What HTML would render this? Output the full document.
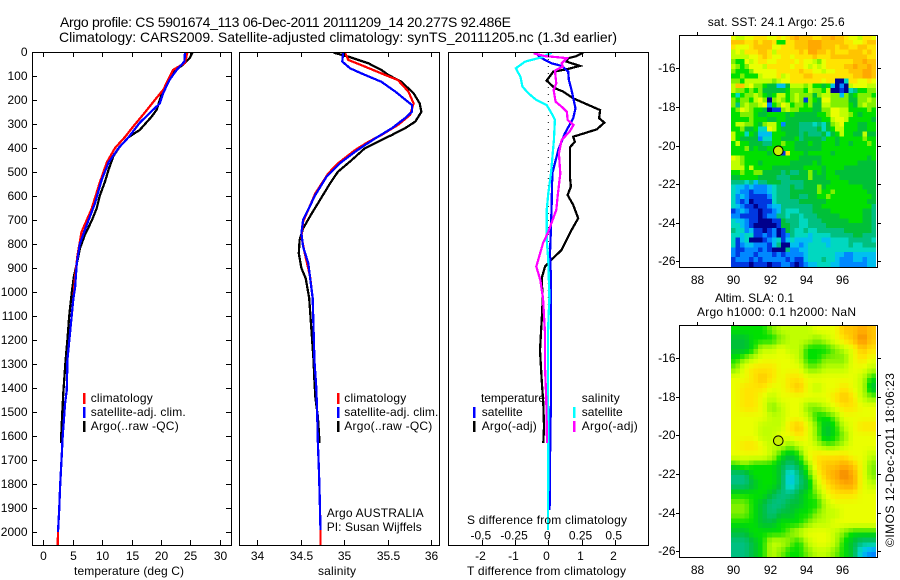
<!DOCTYPE html>
<html>
<head>
<meta charset="utf-8">
<title>Argo profile</title>
<style>
html,body{margin:0;padding:0;background:#fff;}
svg{display:block;}
text{font-family:"Liberation Sans",sans-serif;font-size:12px;fill:#000;}
.title{font-size:14px;}
</style>
</head>
<body>
<svg id="chart" xmlns="http://www.w3.org/2000/svg" width="900" height="580" viewBox="0 0 900 580">
<rect x="0" y="0" width="900" height="580" fill="#fff"/>
<defs>
<clipPath id="clipTemp"><rect x="32" y="52" width="200" height="493"/></clipPath>
<clipPath id="clipSal"><rect x="239" y="52" width="201" height="493"/></clipPath>
<clipPath id="clipDiff"><rect x="448" y="52" width="201" height="493"/></clipPath>
</defs>
<g id="mapLayer"></g>
<g id="lineLayer"></g>
<g id="axisLayer"></g>

<text class="title" x="60" y="27" textLength="451" lengthAdjust="spacing">Argo profile: CS 5901674_113 06-Dec-2011 20111209_14 20.277S 92.486E</text>
<text class="title" x="59" y="42" textLength="558" lengthAdjust="spacing">Climatology: CARS2009. Satellite-adjusted climatology: synTS_20111205.nc (1.3d earlier)</text>

<text x="74" y="575" textLength="110" lengthAdjust="spacing">temperature (deg C)</text>
<text x="318" y="575" textLength="38" lengthAdjust="spacing">salinity</text>
<text x="467" y="575" textLength="159" lengthAdjust="spacing">T difference from climatology</text>
<text x="467" y="524" textLength="160" lengthAdjust="spacing">S difference from climatology</text>

<g>
<rect x="83" y="393" width="2.5" height="11" fill="#ff0000"/>
<rect x="83" y="407" width="2.5" height="11" fill="#0000ff"/>
<rect x="83" y="421" width="2.5" height="11" fill="#000"/>
<text x="90.7" y="402" textLength="62" lengthAdjust="spacing">climatology</text>
<text x="90.7" y="416" textLength="95" lengthAdjust="spacing">satellite-adj. clim.</text>
<text x="90.7" y="430" textLength="88" lengthAdjust="spacing">Argo(..raw -QC)</text>
</g>
<g>
<rect x="337" y="393" width="2.5" height="11" fill="#ff0000"/>
<rect x="337" y="407" width="2.5" height="11" fill="#0000ff"/>
<rect x="337" y="421" width="2.5" height="11" fill="#000"/>
<text x="344.3" y="402" textLength="62" lengthAdjust="spacing">climatology</text>
<text x="344.3" y="416" textLength="94" lengthAdjust="spacing">satellite-adj. clim.</text>
<text x="344.3" y="430" textLength="88" lengthAdjust="spacing">Argo(..raw -QC)</text>
</g>
<text x="326.7" y="517" textLength="97" lengthAdjust="spacing">Argo AUSTRALIA</text>
<text x="326.7" y="531" textLength="95" lengthAdjust="spacing">PI: Susan Wijffels</text>

<g>
<text x="481" y="402" textLength="64" lengthAdjust="spacing">temperature</text>
<rect x="473" y="407" width="2.5" height="11" fill="#0000ff"/>
<rect x="473" y="421" width="2.5" height="11" fill="#000"/>
<text x="481.7" y="416" textLength="41" lengthAdjust="spacing">satellite</text>
<text x="481.7" y="430" textLength="55" lengthAdjust="spacing">Argo(-adj)</text>
<text x="581.7" y="402" textLength="38" lengthAdjust="spacing">salinity</text>
<rect x="573" y="407" width="2.5" height="11" fill="#00ffff"/>
<rect x="573" y="421" width="2.5" height="11" fill="#ff00ff"/>
<text x="581.7" y="416" textLength="41" lengthAdjust="spacing">satellite</text>
<text x="581.7" y="430" textLength="56" lengthAdjust="spacing">Argo(-adj)</text>
</g>

<text x="707.7" y="26" textLength="137" lengthAdjust="spacing">sat. SST: 24.1 Argo: 25.6</text>
<text x="715" y="302" textLength="79" lengthAdjust="spacing">Altim. SLA: 0.1</text>
<text x="697" y="316" textLength="159" lengthAdjust="spacing">Argo h1000: 0.1 h2000: NaN</text>
<text transform="translate(894,547) rotate(-90)" x="0" y="0" textLength="174" lengthAdjust="spacing">©IMOS 12-Dec-2011 18:06:23</text>
</svg>

<script>
// ---------- axis tick labels ----------
const depthTicks = [0,100,200,300,400,500,600,700,800,900,1000,1100,1200,1300,1400,1500,1600,1700,1800,1900,2000];
const tempTicks = [0,5,10,15,20,25,30];
const salTicks = [34,34.5,35,35.5,36];
const diffTTicks = [-2,-1,0,1,2];
const diffSTicks = [-0.5,-0.25,0,0.25,0.5];
const lonTicks = [88,90,92,94,96];
const latTicks = [-16,-18,-20,-22,-24,-26];
const floatLon = 92.486;
const floatLat = -20.277;

// ---------- temperature panel ----------
const tempArgoDepth = [0,25,53,80,105,145,185,240,270,325,355,395,435,490,540,600,650,705,760,820,870,935,990,1100,1200,1283,1421,1517,1630];
const tempArgoValue = [25.4,24.9,23.8,22.1,21.5,20.8,20.0,19.3,18.4,16.4,14.5,13.0,11.9,11.1,10.5,9.6,9.1,8.2,7.1,6.2,5.8,5.2,4.9,4.4,4.1,3.8,3.4,3.2,3.0];
const tempClimDepth = [0,46,74,157,190,260,310,354,400,460,545,655,750,850,935,1030,1283,1408,1463,1600,1700,1810,1907,2000,2054];
const tempClimValue = [24.5,24.1,22.1,20.4,19.3,17.0,15.3,13.9,12.2,10.8,9.6,8.2,6.5,5.8,5.4,5.1,4.1,4.0,3.7,3.3,3.1,2.85,2.7,2.5,2.45];
const tempSatDepth = [0,40,74,115,170,215,240,295,355,400,460,535,630,720,800,880,980,1030,1283,1408,1463,1600,1700,1810,1907,2000];
const tempSatValue = [24.1,24.0,22.7,21.5,20.4,19.8,18.7,16.4,14.5,12.8,11.1,9.9,8.8,7.4,6.2,5.7,5.4,5.1,4.1,4.0,3.7,3.3,3.1,2.85,2.7,2.5];

// ---------- salinity panel ----------
const salArgoDepth = [3,19,47,75,96,124,172,214,249,290,318,346,374,401,450,499,547,631,672,735,783,839,901,943,1026,1283,1367,1437,1520,1630];
const salArgoValue = [34.88,35.05,35.28,35.43,35.51,35.66,35.80,35.87,35.89,35.82,35.70,35.55,35.39,35.24,35.09,34.93,34.84,34.70,34.63,34.53,34.49,34.48,34.51,34.56,34.60,34.65,34.66,34.67,34.70,34.72];
const salClimDepth = [3,33,61,89,117,165,214,262,304,346,374,408,464,506,589,707,769,839,936,1026,1283,1394,1478,1631,1728,1839,1992,2054];
const salClimValue = [35.01,35.05,35.24,35.43,35.62,35.74,35.80,35.76,35.62,35.43,35.28,35.13,34.93,34.82,34.67,34.53,34.51,34.55,34.61,34.64,34.66,34.68,34.69,34.70,34.71,34.72,34.73,34.73];
const salSatDepth = [3,40,68,89,124,165,221,249,276,318,353,388,415,464,519,596,700,756,811,881,1026,1283,1394,1478,1631,1728,1839,1992];
const salSatValue = [34.99,34.98,35.07,35.20,35.43,35.59,35.78,35.78,35.70,35.55,35.39,35.24,35.13,34.95,34.80,34.67,34.53,34.51,34.53,34.59,34.64,34.66,34.68,34.69,34.70,34.71,34.72,34.73];

// ---------- difference panel ----------
const diffTArgoDepth = [3,17,26,40,58,72,82,119,151,165,193,214,242,276,294,322,336,353,374,397,519,561,596,637,693,742,783,825,867,894,943,1033,1117,1242,1367,1464,1561,1630];
const diffTArgoValue = [1.05,0.85,0.60,0.55,0.95,0.55,0.15,-0.05,0.20,0.45,0.75,1.10,1.56,1.53,1.69,1.46,1.15,0.75,0.80,0.65,0.65,0.68,0.58,0.75,0.90,0.70,0.55,0.40,0.08,-0.10,-0.20,-0.17,-0.20,-0.25,-0.20,-0.15,-0.13,-0.15];
const diffTSatDepth = [3,26,47,58,82,117,158,235,276,339,408,506,644,728,839,950,1033,1242,1450,1589,1908];
const diffTSatValue = [-0.40,-0.20,0.10,0.40,0.60,0.62,0.70,0.82,0.75,0.50,0.30,0.12,0.10,0.08,0.05,0.08,0.08,0.08,0.08,0.06,0.04];
const diffSSatDepth = [3,22,40,68,103,144,172,200,221,256,283,367,506,589,658,783,867,1026,1100,1172,1380,1630,1991];
const diffSSatValue = [0.025,-0.05,-0.175,-0.245,-0.21,-0.195,-0.15,-0.09,-0.012,0.025,0.05,0.042,0.02,0,-0.012,-0.012,0,0.008,0.002,-0.002,-0.002,0,-0.002];
const diffSArgoDepth = [6,17,22,26,47,61,78,131,158,207,228,249,283,304,332,367,422,506,603,658,749,797,894,950,1026,1172,1311,1450,1630];
const diffSArgoValue = [-0.11,-0.025,0.075,0.14,0.10,0.11,0.05,0.06,0.04,0.055,0.10,0.14,0.145,0.19,0.16,0.10,0.08,0.09,0.07,0.06,0,-0.04,-0.09,-0.06,-0.04,-0.025,-0.025,-0.015,-0.01];

// ---------- map colour levels (0 = coolest/lowest ... 14 = warmest/highest) ----------
const mapPalette = ["#00008c","#0038e0","#0088ff","#00c0f0","#00d8c0","#00c080","#00c038","#00e000","#80f000","#c0ff00","#eaff00","#ffe400","#ffc400","#ffa800","#f08000"];

const sstLevels = [
[10,9,9,10,10,11,11,11,10,10,11,10,11,12,13,12,12,12,11,11,12,12,13,12,12,11,10,10,9,11,11,10],
[12,12,12,11,11,12,11,12,12,11,7,7,11,11,12,12,12,13,13,13,12,12,12,12,12,11,11,10,10,11,12,12],
[11,10,10,10,11,12,12,12,12,10,10,11,11,11,12,12,12,13,13,13,12,12,12,11,12,12,11,11,12,12,11,11],
[9,10,9,11,11,11,12,12,11,9,11,11,11,11,11,12,11,13,13,12,12,11,12,11,11,11,12,12,12,11,12,11],
[9,9,9,9,10,10,11,12,11,10,10,11,11,10,11,11,11,11,12,11,11,11,12,12,12,12,12,12,12,12,11,11],
[8,7,7,10,9,10,11,11,10,10,11,11,11,11,10,11,10,10,9,8,10,11,11,11,11,11,11,12,12,13,12,12],
[9,8,7,8,10,10,10,9,11,11,11,11,11,10,11,11,10,9,10,9,10,11,11,11,11,12,12,13,12,12,13,12],
[8,7,7,7,8,10,10,10,10,10,11,11,11,11,11,12,11,11,10,10,9,10,10,11,11,11,12,12,12,13,13,12],
[7,7,8,7,7,7,9,10,10,10,11,9,10,11,11,11,12,12,11,11,11,11,11,11,11,11,11,12,12,13,13,12],
[8,8,7,9,9,9,9,9,9,8,9,10,10,11,11,11,11,11,11,11,10,11,11,0,0,4,11,11,10,10,11,10],
[9,12,12,9,10,8,8,7,6,6,3,3,6,9,9,9,8,9,7,7,6,7,3,0,2,0,9,10,10,10,9,9],
[9,8,8,7,8,7,8,6,6,6,6,6,7,8,8,8,7,9,8,8,7,9,0,0,1,0,4,5,7,7,8,8],
[7,4,7,8,8,9,8,7,6,7,9,9,7,8,9,8,8,8,6,8,9,9,8,8,3,8,6,7,8,8,8,7],
[8,7,8,8,7,9,10,8,0,8,9,8,7,8,9,8,1,8,7,6,10,10,8,8,8,8,6,6,8,8,9,8],
[8,5,8,9,8,8,9,10,2,7,8,10,9,7,8,8,7,8,6,6,9,9,8,8,8,8,7,6,8,9,8,8],
[7,8,10,9,8,7,7,6,0,1,1,8,9,8,8,7,7,7,6,6,8,8,10,10,9,9,7,7,7,7,8,7],
[7,7,8,8,8,7,6,6,7,7,7,7,6,7,6,6,6,6,6,7,7,8,10,10,9,9,8,7,6,7,7,7],
[7,7,7,7,8,7,7,7,6,6,7,7,6,6,6,6,6,6,6,6,7,7,9,10,10,9,7,7,7,7,7,6],
[7,9,9,8,8,7,6,8,9,9,7,2,6,6,6,5,5,5,4,5,4,6,8,9,10,7,7,7,6,6,7,7],
[7,7,8,6,6,7,4,4,10,9,7,6,6,6,6,5,5,5,5,6,4,6,7,9,9,7,7,7,6,6,7,7],
[9,7,7,4,7,6,3,3,3,7,7,7,6,6,6,5,6,5,5,5,6,4,6,7,9,7,7,6,6,9,6,6],
[9,7,6,6,6,6,2,4,4,7,7,6,6,6,7,5,6,6,6,6,5,7,7,6,7,7,7,7,7,8,7,7],
[7,9,7,7,6,6,6,5,5,7,7,8,7,7,6,6,6,7,6,6,7,7,7,6,7,7,6,7,7,7,8,7],
[7,7,7,8,6,7,6,6,7,7,7,7,7,7,6,6,6,6,6,6,7,7,7,7,7,7,7,7,7,7,7,7],
[7,7,7,7,7,7,7,7,6,7,9,1,11,7,7,7,6,7,7,7,7,7,6,7,7,7,7,7,7,7,7,7],
[10,9,8,7,7,7,7,7,7,7,7,7,7,7,7,6,6,6,6,6,7,7,7,7,7,7,7,7,7,7,6,7],
[9,9,8,7,7,7,6,7,7,7,7,7,7,6,6,6,6,6,7,6,7,7,7,7,7,7,7,7,6,6,6,6],
[9,9,9,7,9,7,7,7,7,6,6,6,6,6,6,6,7,7,7,7,6,7,7,7,7,6,6,6,6,6,6,6],
[7,7,8,7,7,8,8,6,6,6,6,5,6,5,5,6,6,8,6,7,6,7,7,6,6,6,6,6,6,6,6,6],
[6,6,7,7,7,7,6,6,6,6,5,5,5,6,6,6,6,8,6,6,6,7,7,7,6,6,6,6,6,6,6,6],
[5,5,5,4,5,3,5,5,6,6,6,5,5,5,5,5,6,6,6,6,6,6,7,7,7,7,6,6,6,6,6,6],
[4,3,3,2,3,2,2,2,3,4,5,5,5,6,5,5,6,6,6,8,6,7,7,7,7,7,7,7,7,6,6,6],
[4,3,2,2,1,2,2,2,3,4,5,5,5,6,6,6,6,6,6,8,7,7,8,7,7,7,7,7,7,7,6,6],
[4,2,3,2,1,1,1,1,2,4,5,5,5,6,6,5,5,6,6,7,7,8,7,7,7,7,7,7,7,7,7,6],
[4,2,1,2,0,1,1,1,1,4,5,5,5,5,5,6,6,6,6,6,6,7,7,7,7,7,7,7,7,7,6,6],
[4,3,2,1,1,0,1,1,2,3,3,5,5,5,5,5,5,5,6,6,7,7,7,7,7,7,7,7,7,7,7,5],
[1,2,3,2,1,1,0,1,1,2,3,5,4,4,4,5,5,5,6,6,6,6,7,7,7,7,7,7,7,6,6,5],
[2,2,1,1,1,1,0,1,2,2,5,5,4,5,5,4,5,5,5,6,6,6,6,6,7,7,7,7,7,6,6,5],
[4,3,3,2,1,1,0,0,0,1,1,6,5,5,5,4,4,5,5,5,6,6,6,6,6,6,7,7,7,6,6,5],
[4,4,3,2,1,0,0,0,0,0,1,6,6,5,5,4,4,5,5,5,5,6,6,6,6,6,6,6,6,6,6,5],
[5,4,4,2,3,1,1,0,1,2,0,1,6,5,4,4,5,4,4,5,5,5,5,5,5,6,6,6,6,6,6,5],
[4,4,3,4,4,1,1,2,1,2,0,1,2,5,4,4,4,3,4,4,4,4,5,5,5,5,5,6,6,5,5,5],
[4,1,3,4,0,0,0,1,2,3,4,1,3,4,3,3,3,3,4,4,3,3,4,4,4,4,5,5,5,5,5,4],
[4,1,2,3,3,2,2,2,1,3,5,0,0,3,3,2,3,4,4,4,4,3,4,4,4,4,5,4,4,5,5,5],
[2,1,1,2,2,2,1,2,1,0,0,0,5,2,2,3,3,4,4,4,4,4,4,4,4,4,4,4,4,4,4,4],
[2,1,2,2,2,1,2,2,2,1,2,1,2,2,2,2,3,4,4,4,4,4,4,3,3,2,2,3,3,3,3,3],
[1,2,2,2,1,2,1,2,2,2,2,2,1,2,1,1,3,4,4,4,5,4,4,3,2,2,2,3,3,2,3,3],
[1,1,1,1,0,1,1,1,0,1,1,2,2,1,0,1,2,3,3,4,4,4,3,3,2,2,2,2,2,2,3,3]
];

const slaLevels = [
[7,7,7,7,8,9,9,9,9,10,10,10,12,12,13,12],
[6,6,7,7,7,8,9,9,9,8,9,10,11,12,14,12],
[6,6,7,9,9,10,9,9,7,7,7,8,9,10,12,11],
[7,8,9,10,10,10,10,9,7,7,8,8,8,10,11,10],
[8,10,11,11,11,10,10,10,8,8,9,9,9,10,10,9],
[10,10,11,12,11,10,11,11,10,10,10,10,10,10,9,7],
[10,11,11,11,10,10,11,12,10,9,10,10,11,10,9,6],
[10,11,11,10,9,10,10,10,10,10,10,11,12,11,9,8],
[10,11,11,10,8,9,10,10,8,8,9,10,11,11,10,10],
[10,10,10,10,9,9,10,10,9,7,7,8,10,10,10,10],
[10,10,10,9,9,9,11,12,10,8,6,7,9,10,11,11],
[10,10,10,9,9,10,10,11,10,8,6,7,8,10,10,10],
[10,11,11,10,9,9,8,9,10,9,8,8,9,10,10,10],
[10,10,10,10,9,7,6,7,10,11,11,11,11,10,10,9],
[7,8,7,7,7,6,5,6,8,11,12,12,13,12,10,8],
[5,5,7,7,7,6,3,5,7,10,12,13,14,13,10,8],
[5,5,6,7,7,6,3,5,6,9,11,12,13,13,10,9],
[7,7,7,7,6,5,5,6,7,8,10,11,11,11,10,10],
[8,8,7,6,5,5,6,6,7,7,9,10,10,10,10,10],
[8,8,7,6,5,6,6,7,7,8,9,9,10,10,10,10],
[7,7,7,6,6,7,7,7,8,9,9,10,10,10,10,10],
[6,6,7,7,7,7,8,9,10,10,10,9,8,7,7,7],
[5,5,6,7,9,9,8,7,9,10,10,9,7,6,5,5],
[5,5,6,7,9,8,7,7,8,9,9,8,7,6,3,2]
];

// ---------- axis functions ----------
const yDepth = d => 52 + 0.24 * d;
const xTemp = t => 43.3 + 5.88 * t;
const xSal = s => 344 + 87 * (s - 35);
const xDiffT = t => 548.3 + 33.2 * t;
const xDiffS = s => 548.3 + 132.8 * s;
const xLon = l => 733.3 + 18.1 * (l - 90);
const ySst = l => 68.3 + 19.3 * (-16 - l);
const ySla = l => 358 + 19.33 * (-16 - l);

const NS = 'http://www.w3.org/2000/svg';
const mapLayer = document.getElementById('mapLayer');
const lineLayer = document.getElementById('lineLayer');
const axisLayer = document.getElementById('axisLayer');

function levelColor(level) {
  const v = Math.max(0, Math.min(14, level));
  const lo = Math.floor(v);
  const hi = Math.min(14, lo + 1);
  const f = v - lo;
  const a = mapPalette[lo], b = mapPalette[hi];
  const ch = i => Math.round(parseInt(a.substr(i, 2), 16) * (1 - f) + parseInt(b.substr(i, 2), 16) * f);
  return 'rgb(' + ch(1) + ',' + ch(3) + ',' + ch(5) + ')';
}

function drawLine(depths, values, xFn, color, clip, name) {
  const el = document.createElementNS(NS, 'polyline');
  el.setAttribute('points', depths.map((d, i) => xFn(values[i]).toFixed(1) + ',' + yDepth(d).toFixed(1)).join(' '));
  el.setAttribute('fill', 'none');
  el.setAttribute('stroke', color);
  el.setAttribute('stroke-width', '2.25');
  el.setAttribute('shape-rendering', 'crispEdges');
  el.setAttribute('clip-path', 'url(#' + clip + ')');
  
  
  lineLayer.appendChild(el);
}

function drawTick(x1, y1, x2, y2, name) {
  const el = document.createElementNS(NS, 'line');
  el.setAttribute('x1', x1);
  el.setAttribute('y1', y1);
  el.setAttribute('x2', x2);
  el.setAttribute('y2', y2);
  el.setAttribute('stroke', '#000');
  el.setAttribute('stroke-width', '1');
  el.setAttribute('shape-rendering', 'crispEdges');
  
  
  axisLayer.appendChild(el);
}

function drawLabel(x, y, str, anchor, name) {
  const el = document.createElementNS(NS, 'text');
  el.setAttribute('x', x);
  el.setAttribute('y', y);
  el.setAttribute('text-anchor', anchor);
  el.textContent = str;
  
  
  axisLayer.appendChild(el);
}

function drawBox(x, y, w, h, name) {
  const el = document.createElementNS(NS, 'rect');
  el.setAttribute('x', x);
  el.setAttribute('y', y);
  el.setAttribute('width', w);
  el.setAttribute('height', h);
  el.setAttribute('fill', 'none');
  el.setAttribute('stroke', '#000');
  el.setAttribute('stroke-width', '1');
  el.setAttribute('shape-rendering', 'crispEdges');
  
  
  axisLayer.appendChild(el);
}

function drawCell(lon, lat, step, yFn, fill, name) {
  const x0 = xLon(lon);
  const x1 = xLon(lon + step);
  const y0 = yFn(lat);
  const y1 = yFn(lat - step);
  const el = document.createElementNS(NS, 'rect');
  el.setAttribute('x', x0.toFixed(2));
  el.setAttribute('y', y0.toFixed(2));
  el.setAttribute('width', (x1 - x0 + 0.3).toFixed(2));
  el.setAttribute('height', (y1 - y0 + 0.3).toFixed(2));
  el.setAttribute('fill', fill);
  el.setAttribute('shape-rendering', 'crispEdges');
  
  
  mapLayer.appendChild(el);
}

function drawCells(levels, step, lon0, lat0, yFn, name) {
  levels.forEach((row, r) => {
    row.forEach((level, c) => {
      drawCell(lon0 + step * c, lat0 - step * r, step, yFn, levelColor(level), name);
    });
  });
}

// the altimetry field is a smooth gridded product, so each half-degree value is
// shaded as four quarter-degree blocks blended toward its neighbours
function drawSmoothCells(levels, step, lon0, lat0, yFn, name) {
  const nr = levels.length, nc = levels[0].length;
  const at = (r, c) => levels[Math.max(0, Math.min(nr - 1, r))][Math.max(0, Math.min(nc - 1, c))];
  for (let r = 0; r < nr; r++) {
    for (let c = 0; c < nc; c++) {
      for (let sr = 0; sr < 2; sr++) {
        for (let sc = 0; sc < 2; sc++) {
          const dr = sr ? 1 : -1, dc = sc ? 1 : -1;
          const level = 0.5625 * at(r, c) + 0.1875 * at(r + dr, c) + 0.1875 * at(r, c + dc) + 0.0625 * at(r + dr, c + dc);
          drawCell(lon0 + step * (c + sc / 2), lat0 - step * (r + sr / 2), step / 2, yFn, levelColor(level), name);
        }
      }
    }
  }
}

function drawFloat(lon, lat, yFn, name) {
  const el = document.createElementNS(NS, 'circle');
  el.setAttribute('cx', xLon(lon).toFixed(1));
  el.setAttribute('cy', yFn(lat).toFixed(1));
  el.setAttribute('r', '4.8');
  el.setAttribute('fill', '#c8f000');
  el.setAttribute('stroke', '#000');
  el.setAttribute('stroke-width', '1');
  
  
  axisLayer.appendChild(el);
}

function fmtLabel(v) {
  return String(v);
}

// maps
drawCells(sstLevels, 0.25, 89.875, -14.275, ySst, 'sst-cell');
drawSmoothCells(slaLevels, 0.5, 89.875, -14.29, ySla, 'sla-cell');

// zero reference line
const zeroLine = document.createElementNS(NS, 'line');
zeroLine.setAttribute('x1', xDiffT(0));
zeroLine.setAttribute('x2', xDiffT(0));
zeroLine.setAttribute('y1', yDepth(0));
zeroLine.setAttribute('y2', yDepth(2054));
zeroLine.setAttribute('stroke', '#000');
zeroLine.setAttribute('stroke-width', '1');
zeroLine.setAttribute('stroke-dasharray', '1 6');


lineLayer.appendChild(zeroLine);

// profile lines
drawLine(tempArgoDepth, tempArgoValue, xTemp, '#000', 'clipTemp', 'temperature-argo-line');
drawLine(tempClimDepth, tempClimValue, xTemp, '#ff0000', 'clipTemp', 'temperature-climatology-line');
drawLine(tempSatDepth, tempSatValue, xTemp, '#0000ff', 'clipTemp', 'temperature-satellite-line');
drawLine(salArgoDepth, salArgoValue, xSal, '#000', 'clipSal', 'salinity-argo-line');
drawLine(salClimDepth, salClimValue, xSal, '#ff0000', 'clipSal', 'salinity-climatology-line');
drawLine(salSatDepth, salSatValue, xSal, '#0000ff', 'clipSal', 'salinity-satellite-line');
drawLine(diffTArgoDepth, diffTArgoValue, xDiffT, '#000', 'clipDiff', 'difference-t-argo-line');
drawLine(diffTSatDepth, diffTSatValue, xDiffT, '#0000ff', 'clipDiff', 'difference-t-satellite-line');
drawLine(diffSSatDepth, diffSSatValue, xDiffS, '#00ffff', 'clipDiff', 'difference-s-satellite-line');
drawLine(diffSArgoDepth, diffSArgoValue, xDiffS, '#ff00ff', 'clipDiff', 'difference-s-argo-line');

// panel boxes
drawBox(32.5, 52.5, 199, 493, 'temperature-axes-box');
drawBox(239.5, 52.5, 200, 493, 'salinity-axes-box');
drawBox(448.5, 52.5, 200, 493, 'difference-axes-box');
drawBox(679.5, 35.5, 198, 232, 'sst-map-box');
drawBox(679.5, 325.5, 198, 232, 'sla-map-box');

// depth ticks
depthTicks.forEach(d => {
  const y = Math.round(yDepth(d)) + 0.5;
  drawTick(32, y, 37, y, 'depth-tick');
  drawTick(231, y, 226, y, 'depth-tick');
  drawLabel(27.5, y + 3.5, fmtLabel(d), 'end', 'depth-tick-label');
});

// x ticks of the three profile panels
tempTicks.forEach(t => {
  const x = Math.round(xTemp(t)) + 0.5;
  drawTick(x, 52, x, 57, 'temperature-tick');
  drawTick(x, 545, x, 540, 'temperature-tick');
  drawLabel(x, 560, fmtLabel(t), 'middle', 'temperature-tick-label');
});
salTicks.forEach(s => {
  const x = Math.round(xSal(s)) + 0.5;
  drawTick(x, 52, x, 57, 'salinity-tick');
  drawTick(x, 545, x, 540, 'salinity-tick');
  drawLabel(x, 560, fmtLabel(s), 'middle', 'salinity-tick-label');
});
diffTTicks.forEach(t => {
  const x = Math.round(xDiffT(t)) + 0.5;
  drawTick(x, 52, x, 57, 'difference-tick');
  drawTick(x, 545, x, 540, 'difference-tick');
  drawLabel(x - 2, 560, fmtLabel(t), 'middle', 't-difference-tick-label');
});
diffSTicks.forEach(s => {
  const x = xDiffS(s);
  drawLabel(x - 1, 539.5, fmtLabel(s), 'middle', 's-difference-tick-label');
});

// map ticks
[[ySst, 35, 267, 284, 'sst'], [ySla, 325, 557, 574, 'sla']].forEach(cfg => {
  const yFn = cfg[0], top = cfg[1], labelY = cfg[3], nm = cfg[4];
  lonTicks.forEach(l => {
    const x = Math.round(xLon(l)) + 0.5;
    drawTick(x, top, x, top - 3, nm + '-lon-tick');
    drawLabel(x, labelY, fmtLabel(l), 'middle', nm + '-lon-tick-label');
  });
  latTicks.forEach(l => {
    const y = Math.round(yFn(l)) + 0.5;
    drawTick(679, y, 676, y, nm + '-lat-tick');
    drawTick(878, y, 881, y, nm + '-lat-tick');
    drawLabel(675.5, y + 3.5, fmtLabel(l), 'end', nm + '-lat-tick-label');
  });
});

// float position markers
drawFloat(floatLon, floatLat, ySst, 'sst-float-marker');
drawFloat(floatLon, floatLat, ySla, 'sla-float-marker');
</script>
</body>
</html>
